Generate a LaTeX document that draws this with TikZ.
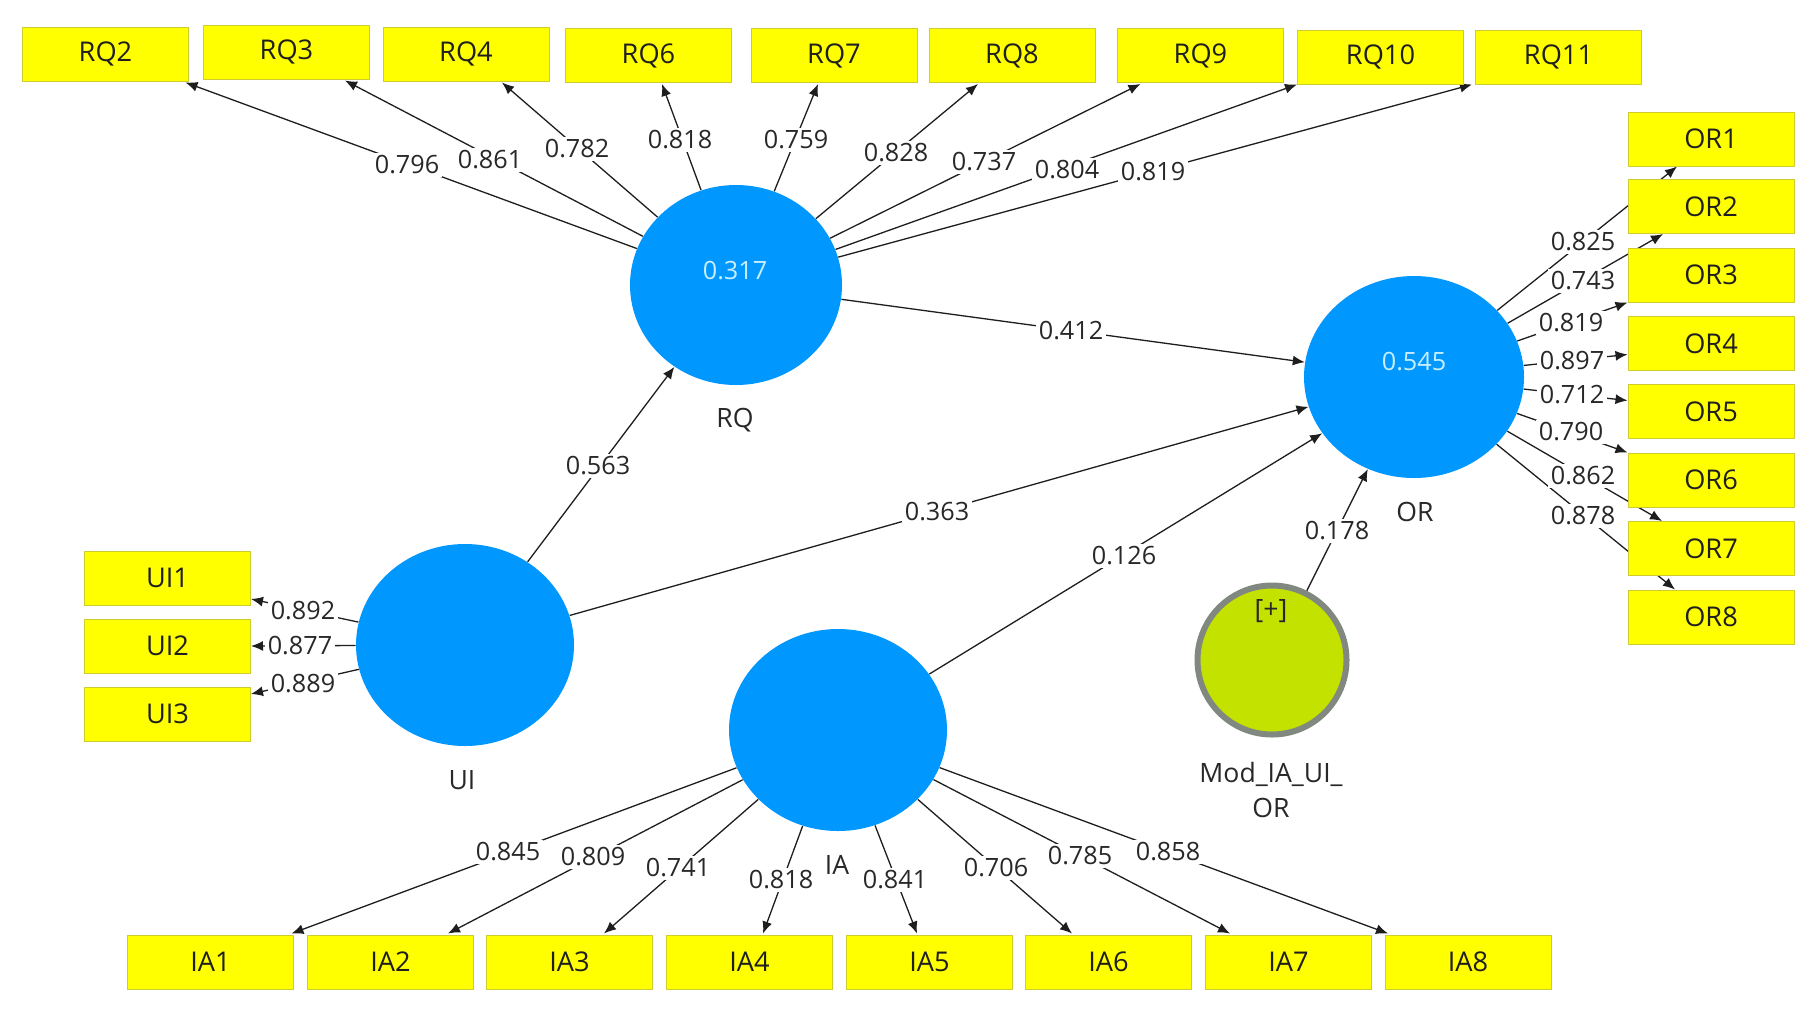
\documentclass[tikz,border=0pt]{standalone}
\usepackage{fontspec}
\setmainfont{Open Sans}
\usetikzlibrary{shapes.geometric,arrows.meta,calc,backgrounds}
\definecolor{lvblue}{RGB}{0,152,255}
\definecolor{lvval}{RGB}{200,238,255}
\definecolor{indfill}{RGB}{255,255,0}
\definecolor{inddraw}{RGB}{205,205,50}
\definecolor{modfill}{RGB}{196,226,0}
\definecolor{moddraw}{RGB}{128,136,128}
\definecolor{txtc}{RGB}{40,40,40}
\definecolor{linec}{RGB}{30,30,30}
\pgfdeclarelayer{bottom}
\pgfsetlayers{bottom,background,main}
\begin{document}
\begin{tikzpicture}[x=0.5pt,y=-0.5pt,
  ind/.style={rectangle,draw=inddraw,fill=indfill,line width=0.5pt,minimum width=83pt,minimum height=27pt,inner sep=0pt,text=black!88,font=\fontsize{13.6}{16}\selectfont},
  lv/.style={ellipse,fill=lvblue,draw=none,inner sep=0pt},
  lvvalue/.style={text=lvval,font=\fontsize{12.6}{15}\selectfont},
  lvname/.style={text=txtc,font=\fontsize{13.3}{17.5}\selectfont,align=center},
  coef/.style={fill=white,inner sep=1.5pt,text=txtc,font=\fontsize{12.6}{15}\selectfont},
  arr/.style={draw=linec,line width=0.65pt,-{Latex[length=6pt,width=5pt]}}]
\useasboundingbox (0,0) rectangle (1813,1008);
\begin{pgfonlayer}{bottom}
\fill[white] (0,0) rectangle (1813,1008);
\end{pgfonlayer}

% latent variables
\node[lv,minimum width=106pt,minimum height=100pt] (RQ) at (736,285) {};
\node[lv,minimum width=110pt,minimum height=101pt] (OR) at (1414,377) {};
\node[lv,minimum width=109pt,minimum height=101pt] (UI) at (465,645) {};
\node[lv,minimum width=109pt,minimum height=101pt] (IA) at (838,730) {};
\node[circle,fill=modfill,draw=moddraw,line width=3pt,minimum size=74.5pt,inner sep=0pt] (Mod) at (1272,660) {};

\node[lvvalue] (RQv) at (735,271) {0.317};
\node[lvvalue] (ORv) at (1414,362) {0.545};
\node[lvname] (Modp) at (1271,611) {[+]};

\node[lvname] (RQn) at (735,420) {RQ};
\node[lvname] (ORn) at (1415,512) {OR};
\node[lvname] (UIn) at (462,780) {UI};
\node[lvname] (IAn) at (837,865) {IA};
\node[lvname] (Modn) at (1271,790) {Mod\_IA\_UI\_\\OR};

% indicators
\foreach \n/\x/\y in {RQ2/105.5/54,RQ3/286.5/52,RQ4/466/54,RQ6/648.5/55.5,RQ7/834/55.5,RQ8/1012/55.5,RQ9/1200.5/55.5,RQ10/1380.5/57,RQ11/1558.5/57}
  \node[ind] (\n) at (\x,\y) {\n};
\foreach \n/\y in {OR1/139,OR2/206.5,OR3/275,OR4/343.5,OR5/411.5,OR6/480,OR7/548.5,OR8/617}
  \node[ind] (\n) at (1711,\y) {\n};
\foreach \n/\y in {UI1/578,UI2/646,UI3/714}
  \node[ind] (\n) at (167.5,\y) {\n};
\foreach \n/\x in {IA1/210.5,IA2/390.5,IA3/569.5,IA4/749.5,IA5/929.5,IA6/1108.5,IA7/1288.5,IA8/1468}
  \node[ind] (\n) at (\x,962) {\n};

% arrow end points
\foreach \n/\dx in {RQ2/80,RQ3/58.5,RQ4/36,RQ6/13.5,RQ7/-16,RQ8/-34,RQ9/-60}
  \coordinate (t\n) at ($(\n.south)+(\dx,1)$);
\coordinate (tRQ10) at (RQ10.south west);
\coordinate (tRQ11) at ($(RQ11.south west)+(-3,0)$);
\coordinate (tOR1) at ($(OR1.south)+(-34,0)$);
\coordinate (tOR2) at ($(OR2.south)+(-48,0)$);
\coordinate (tOR3) at (OR3.south west);
\coordinate (tOR4) at ($(OR4.west)+(0,11)$);
\coordinate (tOR5) at ($(OR5.west)+(0,-11)$);
\coordinate (tOR6) at (OR6.north west);
\coordinate (tOR7) at ($(OR7.north)+(-49,0)$);
\coordinate (tOR8) at ($(OR8.north)+(-36,0)$);
\coordinate (tUI1) at ($(UI1.east)+(0,21)$);
\coordinate (tUI2) at (UI2.east);
\coordinate (tUI3) at ($(UI3.east)+(0,-20)$);
\foreach \n/\dx in {IA1/81,IA2/57.5,IA3/34.5,IA4/13.5,IA5/-12.5,IA6/-36.5,IA7/-58.5,IA8/-80}
  \coordinate (t\n) at ($(\n.north)+(\dx,-1)$);

% connectors
\begin{scope}[on background layer]
  \foreach \n in {RQ2,RQ3,RQ4,RQ6,RQ7,RQ8,RQ9,RQ10,RQ11}
    \draw[arr] (RQ) -- (t\n);
  \foreach \n in {OR1,OR2,OR3,OR4,OR5,OR6,OR7,OR8}
    \draw[arr] (OR) -- (t\n);
  \foreach \n in {UI1,UI2,UI3}
    \draw[arr] (UI) -- (t\n);
  \foreach \n in {IA1,IA2,IA3,IA4,IA5,IA6,IA7,IA8}
    \draw[arr] (IA) -- (t\n);
  \draw[arr] (UI) -- (RQ);
  \draw[arr] (RQ) -- (OR);
  \draw[arr] (UI) -- (OR);
  \draw[arr] (IA) -- (OR);
  \draw[arr] (Mod) -- (OR);
\end{scope}

% coefficients
\node[coef] (cUIRQ) at (598,466) {0.563};
\node[coef] (cRQOR) at (1071,331) {0.412};
\node[coef] (cUIOR) at (937,512) {0.363};
\node[coef] (cIAOR) at (1124,556) {0.126};
\node[coef] (cModOR) at (1337,531) {0.178};

\node[coef] (lRQ2) at (407,165) {0.796};
\node[coef] (lRQ3) at (490,160) {0.861};
\node[coef] (lRQ4) at (577,149) {0.782};
\node[coef] (lRQ6) at (680,140) {0.818};
\node[coef] (lRQ7) at (796,140) {0.759};
\node[coef] (lRQ8) at (896,153) {0.828};
\node[coef] (lRQ9) at (984,162) {0.737};
\node[coef] (lRQ10) at (1067,170) {0.804};
\node[coef] (lRQ11) at (1153,172) {0.819};

\node[coef] (lOR1) at (1583,242) {0.825};
\node[coef] (lOR2) at (1583,281) {0.743};
\node[coef] (lOR3) at (1571,323) {0.819};
\node[coef] (lOR4) at (1572,361) {0.897};
\node[coef] (lOR5) at (1572,395) {0.712};
\node[coef] (lOR6) at (1571,432) {0.790};
\node[coef] (lOR7) at (1583,476) {0.862};
\node[coef] (lOR8) at (1583,516) {0.878};

\node[coef] (lUI1) at (303,611) {0.892};
\node[coef] (lUI2) at (300,646) {0.877};
\node[coef] (lUI3) at (303,684) {0.889};

\node[coef] (lIA1) at (508,852) {0.845};
\node[coef] (lIA2) at (593,857) {0.809};
\node[coef] (lIA3) at (678,868) {0.741};
\node[coef] (lIA4) at (781,880) {0.818};
\node[coef] (lIA5) at (895,880) {0.841};
\node[coef] (lIA6) at (996,868) {0.706};
\node[coef] (lIA7) at (1080,856) {0.785};
\node[coef] (lIA8) at (1168,852) {0.858};
\end{tikzpicture}
\end{document}
